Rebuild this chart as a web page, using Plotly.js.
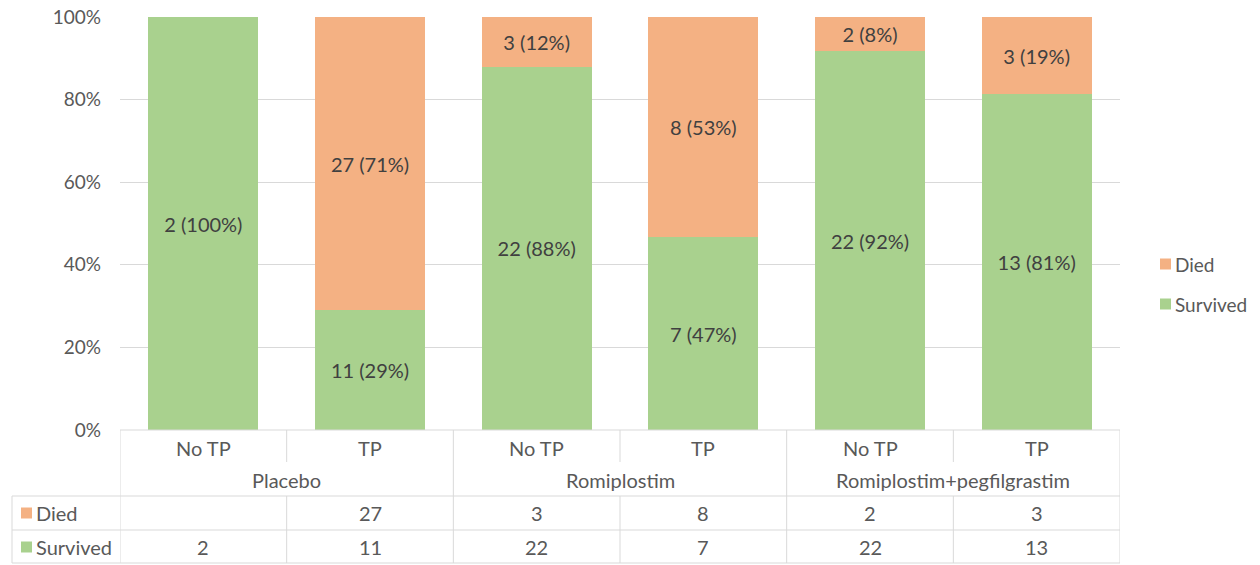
<!DOCTYPE html>
<html>
<head>
<meta charset="utf-8">
<script src="https://cdn.plot.ly/plotly-3.0.1.min.js"></script>
<style>
  html, body { margin: 0; padding: 0; background: #fff; }
  #chart { width: 1260px; height: 565px; }
</style>
</head>
<body>
<div id="chart"></div>
<script>
// Outcome by treatment arm and thrombocytopenia status
const groups = ['Placebo', 'Romiplostim', 'Romiplostim+pegfilgrastim'];
const subgroups = ['No TP', 'TP', 'No TP', 'TP', 'No TP', 'TP'];
const died = [0, 27, 3, 8, 2, 3];
const survived = [2, 11, 22, 7, 22, 13];
const seriesNames = ['Died', 'Survived'];
const yTicks = [0, 20, 40, 60, 80, 100];

const W = 1260, H = 565;
const FONT = 'Lato, "Liberation Sans", sans-serif';
const FS = 20;
const TEXT = '#404040';
const AXIS_TEXT = '#595959';
const GRID = '#d9d9d9';
const C_DIED = '#f4b183';
const C_SURV = '#a9d18e';

const px = x => x / W;
const py = y => (H - y) / H;

const xs = subgroups.map((_, i) => i);
const totals = died.map((d, i) => d + survived[i]);
const pct = (n, i) => n / totals[i] * 100;
const label = (n, i) => n > 0 ? `${n} (${Math.round(pct(n, i))}%)` : '';

const barCommon = {
  type: 'bar',
  x: xs,
  width: 0.66,
  textposition: 'inside',
  insidetextanchor: 'middle',
  constraintext: 'none',
  textangle: 0,
  textfont: { family: FONT, size: FS, color: TEXT },
  hoverinfo: 'skip',
  showlegend: false
};

const traces = [
  Object.assign({}, barCommon, {
    name: seriesNames[1],
    y: survived.map(pct),
    text: survived.map(label),
    marker: { color: C_SURV, line: { width: 0 } }
  }),
  Object.assign({}, barCommon, {
    name: seriesNames[0],
    y: died.map(pct),
    text: died.map(label),
    marker: { color: C_DIED, line: { width: 0 } }
  })
];

// Geometry of the category / data-table block under the plot
const plotTop = 17, plotBottom = 430;
const subY = 448, groupY = 480;
const tableTop = 496, rowMid = 530, tableBottom = 563;
const diedY = 513, survY = 547;
const tableLeft = 12, plotLeft = 120, plotRight = 1120;
const lineStyle = { color: GRID, width: 1 };

const shapes = [];
const hLine = (x0, x1, y) => shapes.push({ type: 'line', xref: 'paper', yref: 'paper', x0: px(x0), x1: px(x1), y0: py(y), y1: py(y), line: lineStyle });
const vLineX = (x, y0, y1) => shapes.push({ type: 'line', xref: 'x', yref: 'paper', x0: x, x1: x, y0: py(y0), y1: py(y1), line: lineStyle });
const vLineP = (x, y0, y1) => shapes.push({ type: 'line', xref: 'paper', yref: 'paper', x0: px(x), x1: px(x), y0: py(y0), y1: py(y1), line: lineStyle });
const keyBox = (x, y, c) => shapes.push({ type: 'rect', xref: 'paper', yref: 'paper', x0: px(x), x1: px(x + 11), y0: py(y + 5.5), y1: py(y - 5.5), fillcolor: c, line: { width: 0 } });

hLine(plotLeft, plotRight, plotBottom);
hLine(tableLeft, plotRight, tableTop);
hLine(tableLeft, plotRight, rowMid);
hLine(tableLeft, plotRight, tableBottom);
vLineP(tableLeft, tableTop, tableBottom);
vLineX(-0.5, plotBottom, tableBottom);
vLineX(subgroups.length - 0.5, plotBottom, tableBottom);
for (let i = 0; i < subgroups.length - 1; i++) {
  const b = i + 0.5;
  if (i % 2 === 0) {
    vLineX(b, plotBottom, 462);
    vLineX(b, tableTop, tableBottom);
  } else {
    vLineX(b, plotBottom, tableBottom);
  }
}

// Legend keys: inside the data table and to the right of the plot
const legendY = [264, 304];
keyBox(21, diedY, C_DIED);
keyBox(21, survY, C_SURV);
keyBox(1160, legendY[0], C_DIED);
keyBox(1160, legendY[1], C_SURV);

const annotations = [];
const ann = (text, xref, x, y, xanchor, size) => annotations.push({
  text, xref, x, yref: 'paper', y: py(y), xanchor: xanchor || 'center', yanchor: 'middle',
  showarrow: false, font: { family: FONT, size: size || FS, color: AXIS_TEXT }
});

subgroups.forEach((s, i) => ann(s, 'x', i, subY));
groups.forEach((g, k) => ann(g, 'x', 2 * k + 0.5, groupY));
ann(seriesNames[0], 'paper', px(34), diedY, 'left');
ann(seriesNames[1], 'paper', px(34), survY, 'left');
ann(seriesNames[0], 'paper', px(1173), legendY[0], 'left', 19);
ann(seriesNames[1], 'paper', px(1173), legendY[1], 'left', 19);
died.forEach((v, i) => ann(v > 0 ? String(v) : '', 'x', i, diedY));
survived.forEach((v, i) => ann(v > 0 ? String(v) : '', 'x', i, survY));

const layout = {
  width: W, height: H,
  margin: { l: 0, r: 0, t: 0, b: 0, autoexpand: false },
  paper_bgcolor: '#fff', plot_bgcolor: '#fff',
  barmode: 'stack',
  showlegend: false,
  xaxis: {
    domain: [px(plotLeft), px(plotRight)],
    range: [-0.5, subgroups.length - 0.5],
    showticklabels: false, showgrid: false, zeroline: false, showline: false, ticks: ''
  },
  yaxis: {
    domain: [py(plotBottom), py(plotTop)],
    range: [0, 100],
    tickmode: 'array',
    tickvals: yTicks,
    ticktext: yTicks.map(v => v + '%'),
    ticks: '', ticklabelstandoff: 18,
    showgrid: true, gridcolor: GRID, gridwidth: 1,
    zeroline: false, showline: false,
    tickfont: { family: FONT, size: FS - 1, color: AXIS_TEXT }
  },
  shapes, annotations,
  hovermode: false
};

Plotly.newPlot('chart', traces, layout, { staticPlot: true, displayModeBar: false });
</script>
</body>
</html>
